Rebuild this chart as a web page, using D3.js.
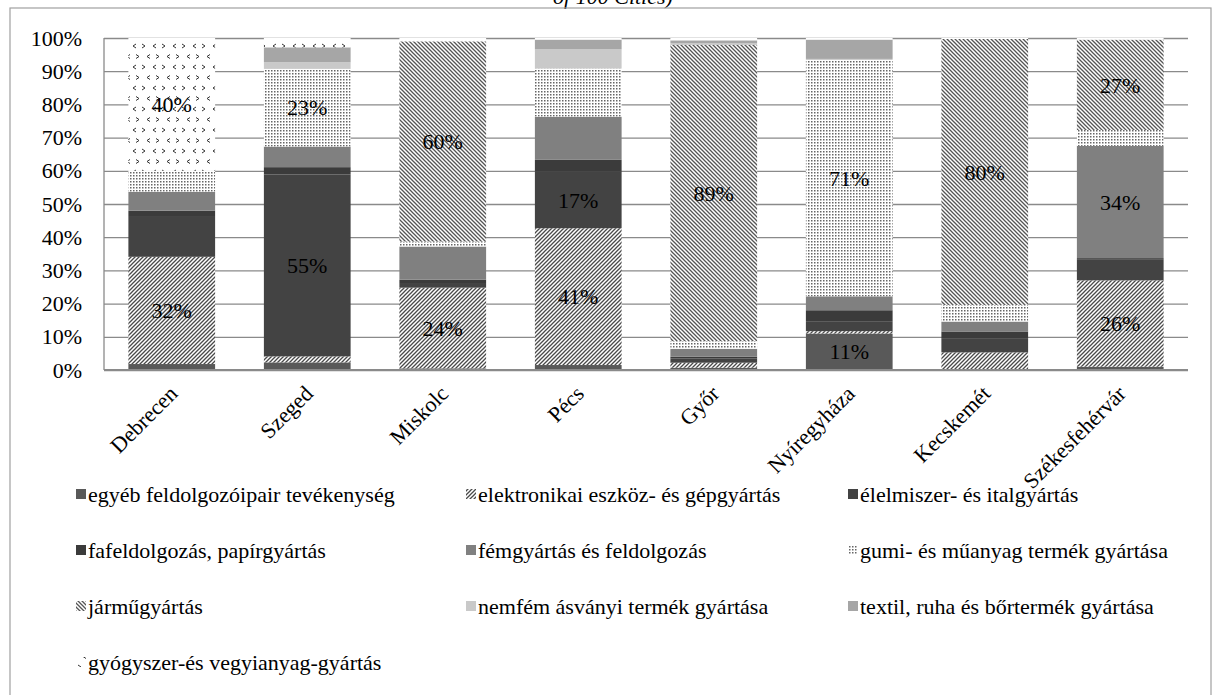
<!DOCTYPE html>
<html>
<head>
<meta charset="utf-8">
<script src="https://cdn.jsdelivr.net/npm/d3@7"></script>
<style>
  body { margin: 0; background: #fff; }
  svg { display: block; }
</style>
</head>
<body>
<script>
// cities along the x axis
const cities = ["Debrecen", "Szeged", "Miskolc", "Pécs", "Győr", "Nyíregyháza", "Kecskemét", "Székesfehérvár"];

// industry names (stack order, bottom to top = legend order)
const industries = [
  "egyéb feldolgozóipair tevékenység",
  "elektronikai eszköz- és gépgyártás",
  "élelmiszer- és italgyártás",
  "fafeldolgozás, papírgyártás",
  "fémgyártás és feldolgozás",
  "gumi- és műanyag termék gyártása",
  "járműgyártás",
  "nemfém ásványi termék gyártása",
  "textil, ruha és bőrtermék gyártása",
  "gyógyszer-és vegyianyag-gyártás"
];

// shares in percent, one value per city
const egyeb        = [1.8, 2.3, 0.5, 1.5, 0.7, 11.0, 0.0, 1.0];
const elektronikai = [32.3, 1.8, 24.3, 41.2, 1.5, 0.7, 5.3, 26.0];
const elelmiszer   = [12.0, 54.8, 1.4, 17.0, 1.3, 3.0, 4.3, 6.2];
const fafeldolgozas = [1.9, 2.2, 1.0, 3.6, 0.5, 3.3, 2.0, 0.5];
const femgyartas   = [5.7, 6.2, 10.0, 13.0, 2.4, 4.2, 3.0, 33.8];
const gumi         = [6.3, 23.4, 1.5, 14.5, 2.3, 71.2, 5.0, 4.8];
const jarmu        = [0.0, 0.0, 60.3, 0.0, 89.2, 0.0, 80.1, 27.2];
const nemfem       = [0.0, 2.0, 0.0, 5.8, 0.6, 0.3, 0.0, 0.0];
const textil       = [0.0, 4.5, 0.0, 2.9, 0.8, 5.8, 0.0, 0.0];
const gyogyszer    = [40.0, 2.8, 1.0, 0.5, 0.7, 0.5, 0.3, 0.5];

const seriesValues = [egyeb, elektronikai, elelmiszer, fafeldolgozas, femgyartas, gumi, jarmu, nemfem, textil, gyogyszer];

// segments that carry a data label: [city, industry index]
const labelled = [
  ["Debrecen", 1], ["Debrecen", 9],
  ["Szeged", 2], ["Szeged", 5],
  ["Miskolc", 1], ["Miskolc", 6],
  ["Pécs", 1], ["Pécs", 2],
  ["Győr", 6],
  ["Nyíregyháza", 0], ["Nyíregyháza", 5],
  ["Kecskemét", 6],
  ["Székesfehérvár", 1], ["Székesfehérvár", 4], ["Székesfehérvár", 6]
];

const yTicks = [0, 10, 20, 30, 40, 50, 60, 70, 80, 90, 100];

const width = 1215, height = 695;
const plotLeft = 104, plotRight = 1188, plotTop = 38, plotBottom = 370;
const serif = "'Liberation Serif', 'Times New Roman', serif";

const svg = d3.select("body").append("svg")
  .attr("width", width)
  .attr("height", height)
  .attr("font-family", serif);

// fills: solid greys and hatch patterns
const defs = svg.append("defs");

const hatch = (id, d, color, w) => {
  defs.append("pattern")
    .attr("id", id)
    .attr("patternUnits", "userSpaceOnUse")
    .attr("width", 4).attr("height", 4)
    .call(p => p.append("rect").attr("width", 4).attr("height", 4).attr("fill", "#fff"))
    .call(p => p.append("path").attr("d", d).attr("stroke", color).attr("stroke-width", w));
};
hatch("p-elek", "M-1,1 l2,-2 M0,4 l4,-4 M3,5 l2,-2", "#4a4a4a", 1.3);
hatch("p-jarmu", "M-1,3 l2,2 M0,0 l4,4 M3,-1 l2,2", "#555", 1.3);

defs.append("pattern")
  .attr("id", "p-gumi")
  .attr("patternUnits", "userSpaceOnUse")
  .attr("width", 3).attr("height", 3)
  .call(p => p.append("rect").attr("width", 3).attr("height", 3).attr("fill", "#fff"))
  .call(p => p.append("rect").attr("x", 1).attr("y", 1).attr("width", 1.5).attr("height", 1.5).attr("fill", "#666"));

defs.append("pattern")
  .attr("id", "p-gyogy")
  .attr("patternUnits", "userSpaceOnUse")
  .attr("width", 20).attr("height", 21)
  .call(p => p.append("rect").attr("width", 20).attr("height", 21).attr("fill", "#fff"))
  .call(p => p.append("path")
    .attr("d", "M2,2 l3,2 l-3,2 M16,2 l-3,2 l3,2 M10,12.5 l-3,2 l3,2 M16,12.5 l3,2 l-3,2")
    .attr("fill", "none").attr("stroke", "#333").attr("stroke-width", 1));

const fills = ["#595959", "url(#p-elek)", "#434343", "#3b3b3b", "#808080",
  "url(#p-gumi)", "url(#p-jarmu)", "#c9c9c9", "#a6a6a6", "url(#p-gyogy)"];

// frame and cut-off title remnant
svg.append("text")
  .attr("x", 613).attr("y", 4)
  .attr("text-anchor", "middle")
  .attr("font-style", "italic")
  .attr("font-size", 22)
  .text("of 100 Cities)");

svg.append("rect")
  .attr("x", 10).attr("y", 8)
  .attr("width", 1201).attr("height", 700)
  .attr("fill", "none")
  .attr("stroke", "#a0a0a0")
  .attr("stroke-width", 1.2);

const x = d3.scaleBand()
  .domain(cities)
  .range([plotLeft, plotRight])
  .paddingInner(0.36)
  .paddingOuter(0.18);

const y = d3.scaleLinear()
  .domain([0, 100])
  .range([plotBottom, plotTop]);

// y axis with grid
svg.append("g")
  .attr("transform", `translate(${plotLeft},0)`)
  .call(d3.axisLeft(y)
    .tickValues(yTicks)
    .tickFormat(d => d + "%")
    .tickSizeInner(-(plotRight - plotLeft))
    .tickSizeOuter(0)
    .tickPadding(22))
  .call(g => g.attr("font-family", serif).attr("font-size", 22))
  .call(g => g.select(".domain").remove())
  .call(g => g.selectAll(".tick line").attr("stroke", "#8a8a8a").attr("stroke-width", 1.3))
  .call(g => g.selectAll(".tick text").attr("fill", "#000"));

svg.append("line")
  .attr("x1", plotLeft).attr("x2", plotLeft)
  .attr("y1", plotTop).attr("y2", plotBottom)
  .attr("stroke", "#8a8a8a").attr("stroke-width", 1.3);

// stacked bars
const rows = cities.map((c, i) => {
  const r = { city: c };
  industries.forEach((k, j) => r[k] = seriesValues[j][i]);
  return r;
});

const series = d3.stack().keys(industries)(rows);

svg.append("g")
  .selectAll("g")
  .data(series)
  .join("g")
    .attr("fill", (d, i) => fills[i])
  .selectAll("rect")
  .data(d => d)
  .join("rect")
    .attr("x", d => x(d.data.city))
    .attr("width", x.bandwidth())
    .attr("y", d => y(d[1]))
    .attr("height", d => y(d[0]) - y(d[1]));

// bottom axis line
svg.append("line")
  .attr("x1", plotLeft).attr("x2", plotRight)
  .attr("y1", plotBottom).attr("y2", plotBottom)
  .attr("stroke", "#8a8a8a").attr("stroke-width", 2);

// data labels
svg.append("g")
  .attr("text-anchor", "middle")
  .attr("font-size", 22)
  .selectAll("text")
  .data(labelled)
  .join("text")
    .attr("x", d => x(d[0]) + x.bandwidth() / 2)
    .attr("y", d => {
      const seg = series[d[1]][cities.indexOf(d[0])];
      return (y(seg[0]) + y(seg[1])) / 2;
    })
    .attr("dy", "0.35em")
    .text(d => Math.round(seriesValues[d[1]][cities.indexOf(d[0])]) + "%");

// category labels, rotated
svg.append("g")
  .attr("text-anchor", "end")
  .attr("font-size", 22)
  .selectAll("text")
  .data(cities)
  .join("text")
    .attr("transform", d => `translate(${x(d) + x.bandwidth() / 2 + 7},${plotBottom + 25}) rotate(-45)`)
    .text(d => d);

// legend, three columns
const legendX = [76, 466, 848];
const legendY = [495, 551, 607, 663];

const legend = svg.append("g")
  .attr("font-size", 22)
  .selectAll("g")
  .data(industries)
  .join("g")
    .attr("transform", (d, i) => `translate(${legendX[i % 3]},${legendY[Math.floor(i / 3)]})`);

legend.append("rect")
  .attr("x", 0).attr("y", -6)
  .attr("width", 10).attr("height", 10)
  .attr("fill", (d, i) => fills[i]);

legend.append("text")
  .attr("x", 12)
  .attr("dy", "0.3em")
  .text(d => d);
</script>
</body>
</html>
